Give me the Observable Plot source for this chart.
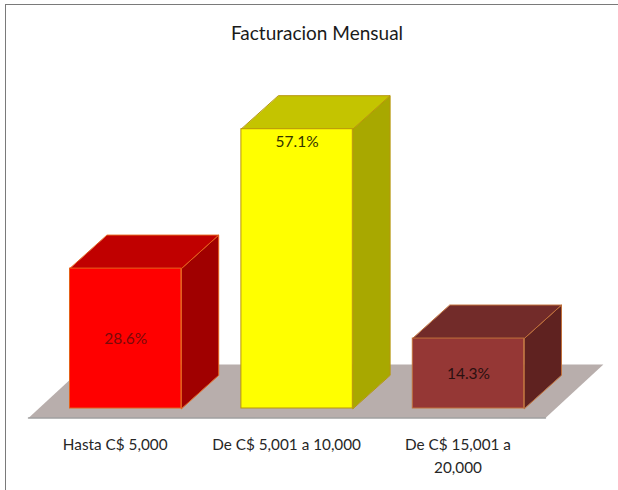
<!DOCTYPE html>
<html>
<head>
<meta charset="utf-8">
<script src="https://cdn.jsdelivr.net/npm/d3@7"></script>
<script src="https://cdn.jsdelivr.net/npm/@observablehq/plot@0.6"></script>
<style>
html,body{margin:0;padding:0;background:#fff}
#chart{position:relative;width:618px;height:490px;overflow:hidden}
#chart svg{display:block;position:absolute;left:0;top:0}
#edge{position:absolute;left:5px;top:4px;right:0;bottom:0;border-left:1px solid #7a7a7a;border-top:1px solid #7a7a7a;pointer-events:none}
</style>
</head>
<body>
<div id="chart"><div id="edge"></div></div>
<script>
const title = "Facturacion Mensual";
const categories = ["Hasta C$ 5,000", "De C$ 5,001 a 10,000", "De C$ 15,001 a\n20,000"];
const values = [28.6, 57.1, 14.3];
const labels = ["28.6%", "57.1%", "14.3%"];
const labelValues = [14.3, 54.4, 7.0];
const frontColors = ["#ff0000", "#ffff00", "#953735"];
const topColors = ["#c00000", "#c4c400", "#722b29"];
const sideColors = ["#a00000", "#a8a800", "#5f2220"];
const edgeColors = ["#e4601a", "#b8960b", "#c0703a"];
const labelColors = ["#7a0a0a", "#333300", "#2a1010"];

const halfW = 0.325, depthX = 0.2176, depthY = 6.85;
const floorFront = -1.95, floorBack = 9.0, floorLeft = -0.567, floorRight = 2.449, floorSlant = 0.338;

const idx = values.map((_, i) => i);
const face = (i, kind) => {
  const l = i - halfW, r = i + halfW, v = values[i];
  if (kind === "top") return [[l, v], [r, v], [r + depthX, v + depthY], [l + depthX, v + depthY]];
  return [[r, 0], [r, v], [r + depthX, v + depthY], [r + depthX, depthY]];
};
const pts = kind => idx.flatMap(i => face(i, kind).map(([x, y]) => ({x, y, i})));
const floor = [
  {x: floorLeft, y: floorFront}, {x: floorRight, y: floorFront},
  {x: floorRight + floorSlant, y: floorBack}, {x: floorLeft + floorSlant, y: floorBack}
];

const polygon = (kind, colors) => Plot.line(pts(kind), {
  x: "x", y: "y", z: "i", curve: "linear-closed",
  fill: d => colors[d.i], stroke: d => edgeColors[d.i], strokeWidth: 1
});

const chart = Plot.plot({
  width: 618, height: 490,
  marginTop: 0, marginLeft: 0, marginRight: 0, marginBottom: 62,
  style: {background: "transparent", fontFamily: "Lato, sans-serif"},
  x: {type: "linear", domain: [0, 2], range: [125.2, 468]},
  y: {type: "linear", domain: [0, 57.1], range: [408, 128.7], axis: null},
  color: {type: "identity"},
  marks: [
    Plot.line(floor, {x: "x", y: "y", curve: "linear-closed", fill: "#b8aeac", stroke: "none"}),
    Plot.line(floor.slice(0, 2), {x: "x", y: "y", stroke: "#a0a0a0", strokeWidth: 1.5}),
    polygon("side", sideColors),
    polygon("top", topColors),
    Plot.rect(idx, {
      x1: i => i - halfW, x2: i => i + halfW, y1: 0, y2: i => values[i],
      fill: i => frontColors[i], stroke: i => edgeColors[i], strokeWidth: 1
    }),
    Plot.text(idx, {
      x: i => i, y: i => labelValues[i], text: i => labels[i],
      fill: i => labelColors[i], fontSize: 15.5
    }),
    Plot.axisX({
      ticks: idx, tickFormat: i => categories[i], tickSize: 0, tickPadding: 5, dx: -10.5,
      fontSize: 15.3, lineHeight: 1.5, lineWidth: 20, label: null, fill: "#262626", anchor: "bottom"
    }),
    Plot.text([title], {frameAnchor: "top", dx: 7.5, dy: 33, fontSize: 19, fill: "#1a1a1a", lineAnchor: "middle"})
  ]
});
document.getElementById("chart").prepend(chart);
</script>
</body>
</html>
